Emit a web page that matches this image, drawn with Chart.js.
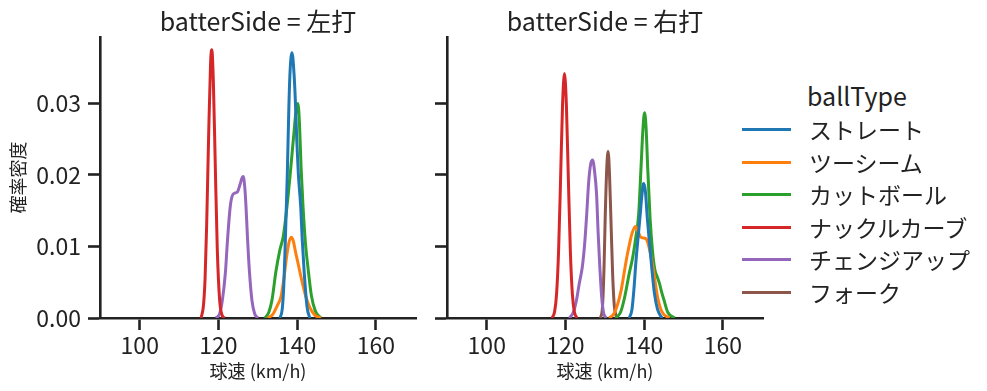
<!DOCTYPE html>
<html lang="ja">
<head>
<meta charset="utf-8">
<title>球速 KDE</title>
<script src="https://cdn.jsdelivr.net/npm/chart.js@4.4.1/dist/chart.umd.min.js"></script>
<style>
  body { margin: 0; background: #fff; }
  #wrap { position: relative; width: 987px; height: 391px; background: #fff;
          font-family: 'Noto Sans CJK JP', sans-serif; color: #222; }
  canvas { position: absolute; top: 0; }
  .panel-title { position: absolute; top: 4px; width: 316px; text-align: center;
                 font-size: 25px; line-height: 32px; white-space: nowrap; }
  #legend { position: absolute; left: 740px; top: 0; }
  .leg-title { position: absolute; left: 67px; top: 79px; font-size: 25px; line-height: 32px; }
  .leg-row { position: absolute; left: 0; height: 32px; width: 247px; }
  .leg-row span.line { position: absolute; left: 2px; top: 15px; width: 49px; height: 3px; }
  .leg-row span.txt { position: absolute; left: 69px; top: 0; font-size: 23px; line-height: 32px; white-space: nowrap; }
</style>
</head>
<body>
<div id="wrap">
  <canvas id="leftChart" width="430" height="391" style="left:0"></canvas>
  <canvas id="rightChart" width="350" height="391" style="left:430px"></canvas>
  <div class="panel-title" style="left:100px">batterSide = 左打</div>
  <div class="panel-title" style="left:447px">batterSide = 右打</div>
  <div id="legend"><div class="leg-title">ballType</div></div>
</div>

<script>
    // ball types and colours (seaborn tab10)
    const ballTypes = ["ストレート", "ツーシーム", "カットボール", "ナックルカーブ", "チェンジアップ", "フォーク"];
    const colors = ["#1f77b4", "#ff7f0e", "#2ca02c", "#d62728", "#9467bd", "#8c564b"];

    const xTicks = [100, 120, 140, 160];
    const yTicks = [0, 0.01, 0.02, 0.03];

    // density curves: [km/h, density]
    // batterSide = 左打
    const leftStraight = [[135.6,0],[136.2,0.0012],[136.6,0.0045],[137.0,0.0109],[137.5,0.0202],[137.9,0.0296],[138.2,0.0345],[138.7,0.0371],[139.2,0.0342],[139.6,0.0296],[139.9,0.0249],[140.3,0.0202],[140.9,0.0156],[141.3,0.0109],[141.8,0.0063],[142.5,0.0016],[143.2,0]];
    const leftTwoSeam = [[132.5,0],[133.8,0.0005],[135.0,0.0018],[135.9,0.003],[136.7,0.0058],[137.3,0.0085],[137.9,0.0105],[138.5,0.0113],[139.0,0.0108],[139.6,0.0092],[140.4,0.0072],[141.2,0.0052],[142.2,0.003],[143.2,0.0015],[144.5,0.0004],[146.0,0]];
    const leftCutter = [[131.8,0],[132.8,0.0008],[133.6,0.0025],[134.6,0.0065],[135.6,0.0095],[136.5,0.0115],[137.4,0.0155],[138.3,0.0205],[139.2,0.026],[139.8,0.0293],[140.2,0.0300],[140.6,0.027],[141.0,0.021],[141.5,0.0155],[142.1,0.0105],[142.8,0.0068],[143.6,0.0032],[144.6,0.001],[146.0,0]];
    const leftKnuckle = [[115.6,0],[116.2,0.0018],[116.6,0.0055],[117.0,0.0129],[117.5,0.0253],[118.0,0.0357],[118.3,0.0375],[118.7,0.0332],[119.2,0.0212],[119.7,0.0097],[120.3,0.0025],[121.0,0.0003],[121.6,0]];
    const leftChangeup = [[119.4,0],[120.3,0.0006],[121.0,0.0025],[121.76,0.0063],[122.3,0.0109],[123.0,0.0156],[123.6,0.0172],[124.3,0.0175],[124.9,0.0177],[125.5,0.0187],[126.0,0.0196],[126.3,0.0198],[126.7,0.0182],[127.0,0.0156],[127.4,0.011],[127.9,0.0063],[128.5,0.0025],[129.2,0.0006],[130.0,0]];

    // batterSide = 右打
    const rightStraight = [[136.2,0],[136.9,0.0012],[137.4,0.004],[137.9,0.0078],[138.5,0.0115],[139.0,0.0145],[139.4,0.017],[139.85,0.0188],[140.3,0.0178],[140.8,0.014],[141.3,0.0108],[141.9,0.0072],[142.6,0.0035],[143.4,0.0012],[144.5,0]];
    const rightTwoSeam = [[131.1,0],[132.3,0.0006],[133.3,0.002],[134.2,0.004],[135.0,0.0066],[135.7,0.0088],[136.3,0.0104],[136.9,0.0118],[137.8,0.0128],[138.4,0.0122],[139.0,0.0114],[139.6,0.0112],[140.4,0.0111],[140.9,0.0106],[141.6,0.0090],[142.2,0.0072],[142.8,0.005],[143.5,0.0027],[144.5,0.0009],[146.4,0]];
    const rightCutter = [[132.8,0],[134.0,0.0008],[135.0,0.0028],[136.2,0.0062],[137.1,0.0085],[137.8,0.011],[138.6,0.0145],[139.2,0.021],[139.7,0.0265],[140.1,0.0287],[140.5,0.0265],[140.9,0.021],[141.5,0.014],[142.1,0.0095],[142.7,0.0068],[143.3,0.0058],[143.9,0.0048],[144.5,0.0035],[145.1,0.0024],[146.0,0.0008],[147.7,0]];
    const rightKnuckle = [[116.6,0],[117.25,0.0009],[117.75,0.0034],[118.25,0.0093],[118.75,0.0192],[119.25,0.0296],[119.75,0.0342],[120.25,0.0296],[120.75,0.0192],[121.25,0.0093],[121.75,0.0034],[122.25,0.0009],[122.9,0]];
    const rightChangeup = [[121.0,0],[122.0,0.0008],[122.8,0.0025],[123.5,0.0048],[124.3,0.0072],[124.9,0.0105],[125.4,0.0145],[125.9,0.019],[126.4,0.0215],[126.9,0.0221],[127.4,0.0205],[127.9,0.0174],[128.3,0.012],[128.7,0.0075],[129.2,0.003],[129.7,0.0007],[130.3,0]];
    const rightFork = [[128.9,0],[129.4,0.0015],[129.8,0.007],[130.1,0.014],[130.5,0.021],[130.85,0.0233],[131.2,0.020],[131.6,0.013],[132.0,0.006],[132.4,0.0018],[133.0,0]];

    Chart.defaults.font.family = "'Noto Sans CJK JP', sans-serif";
    Chart.defaults.color = "#222";

    const ink = "#222";

    let toDataset = (pairs, idx) => ({
        label: ballTypes[idx],
        data: pairs.map(p => ({x: p[0], y: p[1]})),
        borderColor: colors[idx],
        borderWidth: 3,
        pointRadius: 0,
        fill: false,
        cubicInterpolationMode: 'monotone'
    });

    let makePanel = (canvasId, series, yWidth, showYLabels, padRight) => {
        const datasets = [];
        series.forEach((pairs, i) => {
            if (pairs) datasets.push(toDataset(pairs, i));
        });
        return new Chart(document.getElementById(canvasId), {
            type: 'line',
            data: {datasets: datasets},
            options: {
                responsive: false,
                animation: false,
                layout: {padding: {top: 37, right: padRight, left: 0, bottom: 0}},
                plugins: {legend: {display: false}, tooltip: {enabled: false}},
                scales: {
                    x: {
                        type: 'linear', min: 89.9, max: 170.2, z: 1,
                        afterBuildTicks: axis => { axis.ticks = xTicks.map(v => ({value: v})); },
                        afterFit: axis => { axis.height = 73; },
                        grid: {drawOnChartArea: false, tickLength: 12, tickWidth: 2.6, tickColor: ink},
                        border: {color: ink, width: 2.6},
                        ticks: {font: {size: 23}, color: ink, padding: 1, maxRotation: 0, callback: v => v},
                        title: {display: true, text: '球速 (km/h)', font: {size: 18}, color: ink, padding: {top: 0, bottom: 9}}
                    },
                    y: {
                        type: 'linear', min: 0, max: 0.0393, z: 1,
                        afterBuildTicks: axis => { axis.ticks = yTicks.map(v => ({value: v})); },
                        afterFit: axis => { axis.width = yWidth; },
                        grid: {drawOnChartArea: false, tickLength: 12, tickWidth: 2.6, tickColor: ink},
                        border: {color: ink, width: 2.6},
                        ticks: {display: showYLabels, font: {size: 23}, color: ink, padding: 7, callback: v => v.toFixed(2)},
                        title: {display: showYLabels, text: '確率密度', font: {size: 18}, color: ink, padding: {top: 7, bottom: 0}}
                    }
                }
            }
        });
    };

    makePanel('leftChart', [leftStraight, leftTwoSeam, leftCutter, leftKnuckle, leftChangeup, null], 100, true, 14);
    makePanel('rightChart', [rightStraight, rightTwoSeam, rightCutter, rightKnuckle, rightChangeup, rightFork], 17, false, 17);

    // legend
    const legend = document.getElementById('legend');
    ballTypes.forEach((name, i) => {
        const row = document.createElement('div');
        row.className = 'leg-row';
        row.style.top = (113 + i * 32.5) + 'px';
        row.innerHTML = '<span class="line" style="background:' + colors[i] + '"></span><span class="txt">' + name + '</span>';
        legend.appendChild(row);
    });
</script>
</body>
</html>
